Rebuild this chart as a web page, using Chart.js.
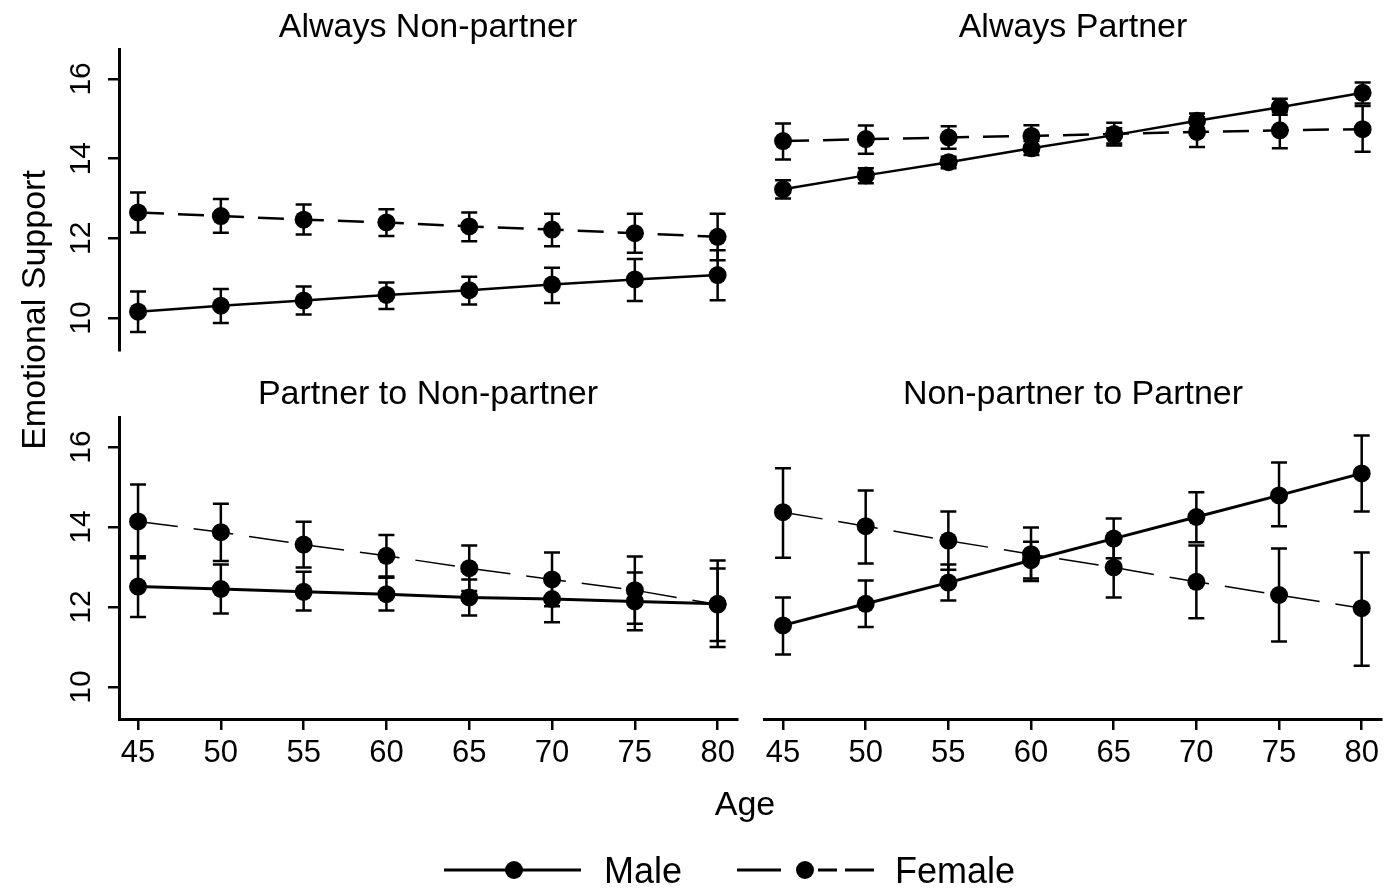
<!DOCTYPE html>
<html>
<head>
<meta charset="utf-8">
<script src="https://cdn.jsdelivr.net/npm/chart.js@4"></script>
<style>
  body { margin: 0; background: #fff; }
  #wrap { position: relative; width: 1384px; height: 889px; overflow: hidden;
          font-family: "Liberation Sans", Arial, sans-serif; color: #000; }
  canvas { position: absolute; left: 0; top: 0; }
  .ttl { position: absolute; font-size: 34px; line-height: 34px; text-align: center; white-space: nowrap; }
</style>
</head>
<body>
<div id="wrap">
  <canvas id="c1" width="1384" height="889"></canvas>
  <canvas id="c2" width="1384" height="889"></canvas>
  <canvas id="c3" width="1384" height="889"></canvas>
  <canvas id="c4" width="1384" height="889"></canvas>

  <div class="ttl" id="t1" style="left:119px;width:618px;top:8px"></div>
  <div class="ttl" id="t2" style="left:764px;width:618px;top:8px"></div>
  <div class="ttl" id="t3" style="left:119px;width:618px;top:375px"></div>
  <div class="ttl" id="t4" style="left:764px;width:618px;top:375px"></div>

  <div class="ttl" style="left:-167px;width:400px;top:293px;transform:rotate(-90deg)">Emotional Support</div>
  <div class="ttl" style="left:645px;width:200px;top:786px">Age</div>

  <svg style="position:absolute;left:0;top:840px" width="1384" height="49">
    <g stroke="#000" stroke-width="3" fill="#000">
      <line x1="444" y1="30" x2="581" y2="30"/>
      <circle cx="514" cy="30" r="9" stroke="none"/>
      <line x1="737" y1="30" x2="781" y2="30"/>
      <circle cx="805" cy="30" r="9" stroke="none"/>
      <line x1="818" y1="30" x2="837" y2="30"/>
      <line x1="845" y1="30" x2="874" y2="30"/>
    </g>
    <text x="604" y="43" font-size="36" font-family="Liberation Sans, Arial, sans-serif">Male</text>
    <text x="895" y="43" font-size="36" font-family="Liberation Sans, Arial, sans-serif">Female</text>
  </svg>
</div>

<script>
const ages = [45, 50, 55, 60, 65, 70, 75, 80];
const yTicks = [10, 12, 14, 16];
const titles = ["Always Non-partner", "Always Partner", "Partner to Non-partner", "Non-partner to Partner"];

// Always Non-partner
const anpMale   = [10.16, 10.31, 10.44, 10.58, 10.70, 10.84, 10.97, 11.08];
const anpMaleLo = [9.65, 9.88, 10.09, 10.23, 10.34, 10.38, 10.43, 10.45];
const anpMaleHi = [10.67, 10.73, 10.79, 10.89, 11.04, 11.26, 11.48, 11.70];
const anpFem    = [12.65, 12.56, 12.47, 12.40, 12.30, 12.22, 12.13, 12.04];
const anpFemLo  = [12.15, 12.14, 12.10, 12.06, 11.93, 11.80, 11.64, 11.45];
const anpFemHi  = [13.15, 12.99, 12.85, 12.73, 12.65, 12.62, 12.62, 12.62];

// Always Partner
const apMale   = [13.23, 13.58, 13.91, 14.26, 14.59, 14.95, 15.29, 15.65];
const apMaleLo = [13.00, 13.38, 13.76, 14.09, 14.38, 14.77, 15.10, 15.38];
const apMaleHi = [13.46, 13.76, 14.05, 14.44, 14.76, 15.13, 15.50, 15.91];
const apFem    = [14.44, 14.49, 14.53, 14.57, 14.62, 14.67, 14.71, 14.74];
const apFemLo  = [13.98, 14.12, 14.25, 14.30, 14.33, 14.29, 14.26, 14.17];
const apFemHi  = [14.88, 14.83, 14.81, 14.84, 14.90, 15.04, 15.17, 15.32];

// Partner to Non-partner
const pnMale   = [12.51, 12.45, 12.38, 12.32, 12.24, 12.20, 12.14, 12.08];
const pnMaleLo = [11.75, 11.84, 11.91, 11.91, 11.79, 11.62, 11.42, 11.15];
const pnMaleHi = [13.27, 13.06, 12.88, 12.73, 12.69, 12.78, 12.86, 12.96];
const pnFem    = [14.14, 13.87, 13.56, 13.28, 12.97, 12.69, 12.42, 12.06];
const pnFemLo  = [13.22, 13.15, 12.99, 12.76, 12.40, 12.02, 11.58, 11.00];
const pnFemHi  = [15.06, 14.58, 14.13, 13.80, 13.54, 13.36, 13.26, 13.16];

// Non-partner to Partner
const npMale   = [11.54, 12.08, 12.61, 13.17, 13.71, 14.25, 14.79, 15.34];
const npMaleLo = [10.81, 11.50, 12.16, 12.71, 13.22, 13.62, 14.02, 14.39];
const npMaleHi = [12.24, 12.66, 13.06, 13.63, 14.21, 14.87, 15.61, 16.29];
const npFem    = [14.37, 14.02, 13.66, 13.32, 12.99, 12.63, 12.30, 11.97];
const npFemLo  = [13.23, 13.09, 12.93, 12.65, 12.24, 11.72, 11.14, 10.53];
const npFemHi  = [15.47, 14.91, 14.39, 13.99, 13.74, 13.54, 13.46, 13.36];

Chart.defaults.font.family = "'Liberation Sans', Arial, sans-serif";
Chart.defaults.color = '#000';

titles.forEach((t, i) => { document.getElementById('t' + (i + 1)).textContent = t; });

// vertical CI whiskers, drawn under the lines and markers
const errorBars = {
  id: 'errorBars',
  beforeDatasetsDraw(chart) {
    const ctx = chart.ctx;
    const xs = chart.scales.x, ys = chart.scales.y;
    chart.data.datasets.forEach(ds => {
      ctx.save();
      ctx.strokeStyle = '#000';
      ctx.lineWidth = 2.5;
      ds.data.forEach((p, i) => {
        const px = xs.getPixelForValue(p.x);
        const top = ys.getPixelForValue(ds.errHi[i]);
        const bot = ys.getPixelForValue(ds.errLo[i]);
        ctx.beginPath();
        ctx.moveTo(px, top); ctx.lineTo(px, bot);
        ctx.moveTo(px - 8, top); ctx.lineTo(px + 8, top);
        ctx.moveTo(px - 8, bot); ctx.lineTo(px + 8, bot);
        ctx.stroke();
      });
      ctx.restore();
    });
  }
};

function panel(id, male, maleLo, maleHi, fem, femLo, femHi, o) {
  const pts = arr => ages.map((a, i) => ({ x: a, y: arr[i] }));
  new Chart(document.getElementById(id), {
    type: 'line',
    data: {
      datasets: [
        { label: 'Male', data: pts(male), errLo: maleLo, errHi: maleHi,
          borderColor: '#000', backgroundColor: '#000', borderWidth: o.mw,
          pointRadius: 9, pointBorderWidth: 0, tension: 0 },
        { label: 'Female', data: pts(fem), errLo: femLo, errHi: femHi,
          borderColor: '#000', backgroundColor: '#000', borderWidth: o.fw, borderDash: o.dash,
          pointRadius: 9, pointBorderWidth: 0, tension: 0 }
      ]
    },
    options: {
      responsive: false,
      animation: false,
      events: [],
      clip: false,
      layout: { padding: o.pad, autoPadding: false },
      plugins: { legend: { display: false }, tooltip: { enabled: false } },
      scales: {
        x: {
          type: 'linear', min: 43.85, max: 81.17, display: o.showX,
          afterBuildTicks: s => { s.ticks = ages.map(v => ({ value: v })); },
          afterFit: s => { s.height = o.showX ? 170 : 0; },
          grid: { drawOnChartArea: false, color: '#000', lineWidth: 2.5, tickLength: 11 },
          border: { color: '#000', width: 3 },
          ticks: { font: { size: 31 }, padding: 5, maxRotation: 0 }
        },
        y: {
          type: 'linear', min: 9.2, max: 16.75, display: o.showY,
          afterBuildTicks: s => { s.ticks = yTicks.map(v => ({ value: v })); },
          afterFit: s => { s.width = o.showY ? 119 : 0; },
          grid: { drawOnChartArea: false, color: '#000', lineWidth: 2.5, tickLength: 11 },
          border: { color: '#000', width: 3 },
          ticks: { font: { size: 30 }, padding: 10, minRotation: 90, maxRotation: 90, crossAlign: 'center' }
        }
      }
    },
    plugins: [errorBars]
  });
}

panel('c1', anpMale, anpMaleLo, anpMaleHi, anpFem, anpFemLo, anpFemHi,
  { showX: false, showY: true, mw: 2.5, fw: 2.5, dash: [26, 14], pad: { left: 0, top: 49, right: 647, bottom: 539 } });
panel('c2', apMale, apMaleLo, apMaleHi, apFem, apFemLo, apFemHi,
  { showX: false, showY: false, mw: 2.5, fw: 2.5, dash: [26, 14], pad: { left: 764, top: 49, right: 2, bottom: 539 } });
panel('c3', pnMale, pnMaleLo, pnMaleHi, pnFem, pnFemLo, pnFemHi,
  { showX: true, showY: true, mw: 3, fw: 1.5, dash: [40, 16], pad: { left: 0, top: 417, right: 647, bottom: 0 } });
panel('c4', npMale, npMaleLo, npMaleHi, npFem, npFemLo, npFemHi,
  { showX: true, showY: false, mw: 3, fw: 1.5, dash: [40, 16], pad: { left: 764, top: 417, right: 2, bottom: 0 } });
</script>
</body>
</html>
